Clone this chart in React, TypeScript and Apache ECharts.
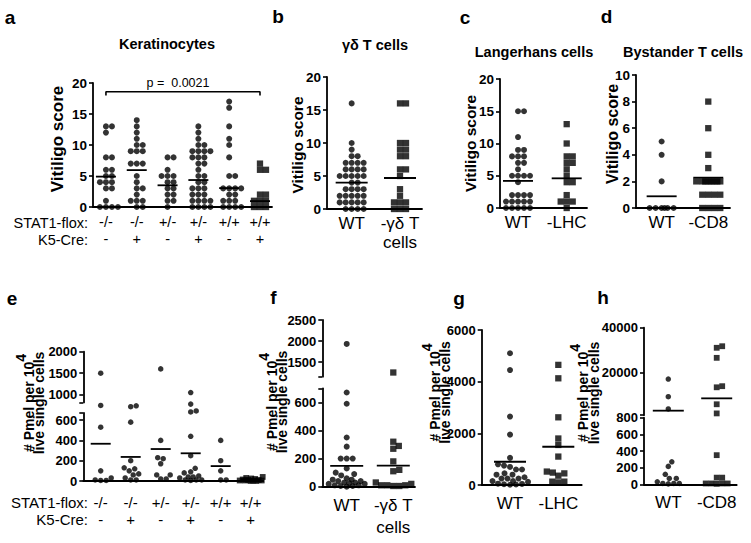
import React, { useEffect, useRef } from "react";
import * as echarts from "echarts";

const FONT = '"Liberation Sans", Arial, Helvetica, sans-serif';
const INK = "#000000";

// ---------------- data ----------------
// a / e genotype rows
const stat1Flox = ["-/-", "-/-", "+/-", "+/-", "+/+", "+/+"];
const k5Cre = ["-", "+", "-", "+", "-", "+"];

// a: Keratinocytes, vitiligo score
const scoreKeratinocytes = [
  [13, 13, 12, 8, 8, 6, 6, 5, 5, 4, 4, 4, 3, 3, 1, 0, 0, 0, 0],
  [14, 13, 12, 11, 10, 10, 9, 9, 9, 7, 7, 7, 5, 4, 3, 3, 2, 1, 1, 1, 0, 0],
  [8, 8, 6, 5, 5, 5, 4, 4, 3, 3, 2, 2, 1, 1, 0],
  [13, 12, 11, 10, 10, 9, 9, 9, 9, 8, 8, 8, 7, 7, 6, 5, 5, 4, 4, 3, 3, 3, 2, 2, 2, 1, 1, 1, 1, 0, 0, 0, 0],
  [17, 16, 13, 11, 10, 8, 5, 5, 3, 3, 3, 3, 2, 2, 1, 1, 1, 0, 0, 0, 0],
  [7, 6, 6, 2, 2, 1, 1, 1, 0, 0, 0],
];
const meanKeratinocytes = [4.9, 5.95, 3.5, 4.35, 3.05, 0.95];
const pValueText = "p =  0.0021";

// b: γδ T cells
const catGammaDelta = ["WT", "-γδ T\ncells"];
const scoreGammaDelta = [
  [16, 10, 9, 8, 8, 7, 7, 7, 7, 6, 6, 6, 6, 5, 5, 5, 5, 5, 4, 4, 3, 3, 3, 3, 2, 2, 2, 2, 2, 1, 1, 1, 1, 1, 0, 0, 0, 0],
  [16, 16, 10, 10, 9, 9, 8, 8, 6, 6, 5, 3, 2, 1, 1, 1, 0, 0, 0],
];
const meanGammaDelta = [4.0, 4.7];

// c: Langerhans cells
const catLangerhans = ["WT", "-LHC"];
const scoreLangerhans = [
  [15, 15, 11, 9, 9, 8, 8, 8, 7, 7, 6, 5, 5, 5, 5, 4, 2, 2, 2, 2, 1, 1, 1, 1, 1, 0, 0, 0, 0, 0],
  [13, 10, 8, 8, 7, 7, 6, 5, 4, 4, 2, 1, 1, 1, 0],
];
const meanLangerhans = [4.2, 4.6];

// d: Bystander T cells
const catBystander = ["WT", "-CD8"];
const scoreBystander = [
  [5, 4, 2, 0, 0, 0, 0, 0, 0],
  [8, 6, 4, 3, 2, 2, 2, 2, 2, 2, 2, 2, 1, 1, 1, 1, 0, 0, 0, 0],
];
const meanBystander = [0.88, 2.28];

// e: Pmel per 10^4 live single cells, keratinocyte STAT1
const pmelKeratinocytes = [
  [1500, 750, 530, 100, 30, 10, 5, 5],
  [740, 720, 580, 200, 130, 120, 100, 70, 60, 30, 10, 10],
  [1600, 400, 230, 220, 170, 60, 60, 20, 20],
  [1050, 780, 690, 680, 440, 250, 125, 90, 80, 50, 40, 40, 30, 10, 10, 10, 5],
  [400, 200, 100, 10, 10],
  [40, 30, 25, 20, 15, 10, 10, 5, 5, 5, 5, 0, 0],
];
const meanPmelKeratinocytes = [367, 237, 315, 273, 147, 15];

// f
const pmelGammaDelta = [
  [1930, 670, 590, 350, 285, 200, 200, 200, 130, 100, 90, 80, 60, 50, 50, 40, 40, 30, 30, 25, 20, 20, 10, 10, 5, 5, 0],
  [1250, 320, 290, 270, 180, 120, 110, 30, 20, 10, 10, 10, 5, 5],
];
const meanPmelGammaDelta = [148, 150];

// g
const pmelLangerhans = [
  [5100, 4450, 2650, 1950, 1050, 800, 750, 700, 600, 600, 450, 400, 400, 300, 250, 250, 250, 150, 150, 120, 50, 40, 30, 20, 10],
  [4650, 4130, 2620, 1800, 1550, 1100, 520, 480, 450, 360, 130, 130, 100],
];
const meanPmelLangerhans = [900, 1480];

// h
const pmelBystander = [
  [17000, 9100, 3600, 270, 215, 120, 70, 70, 30, 10, 10, 10, 5],
  [31700, 31000, 26500, 13800, 13300, 5700, 1600, 350, 80, 80, 10, 10, 10, 10, 5],
];
const meanPmelBystander = [2830, 8350];

// tick labels
const ticksScore = [0, 5, 10, 15, 20];
const ticksScoreD = [0, 2, 4, 6, 8, 10];
const ticksEUpper = [1000, 1500, 2000];
const ticksELower = [0, 200, 400, 600];
const ticksFUpper = [1500, 2000, 2500];
const ticksFLower = [0, 200, 400, 600];
const ticksG = [0, 2000, 4000, 6000];
const ticksHUpper = [20000, 40000];
const ticksHLower = [0, 200, 400, 600, 800];

// ---------------- layout ----------------
type Seg = { top: number; height: number; min: number; max: number; labels: number[] };
type Panel = {
  left: number; width: number; xMin: number; xMax: number;
  segs: Seg[]; split: number;
  groups: number[][]; means: number[]; cats: string[]; symbols: string[];
  size: number; spread: number; meanHalf: number;
  labelMargin: number; labelLH: number; labelSize: number; tickSize: number;
};

const genoCats = stat1Flox.map((s, i) => s + "\n" + k5Cre[i]);
const sym6 = ["circle", "circle", "circle", "circle", "circle", "rect"];
const sym2 = ["circle", "rect"];

const panels: Panel[] = [
  {
    left: 93, width: 179, xMin: -0.42, xMax: 5.39, split: 0,
    segs: [{ top: 83, height: 124, min: 0, max: 20, labels: ticksScore }],
    groups: scoreKeratinocytes, means: meanKeratinocytes, cats: genoCats, symbols: sym6,
    size: 6, spread: 14, meanHalf: 10, labelMargin: 6.5, labelLH: 17, labelSize: 14.5, tickSize: 13.5,
  },
  {
    left: 327, width: 95, xMin: -0.51, xMax: 1.455, split: 0,
    segs: [{ top: 77, height: 132, min: 0, max: 20, labels: ticksScore }],
    groups: scoreGammaDelta, means: meanGammaDelta, cats: catGammaDelta, symbols: sym2,
    size: 6, spread: 17, meanHalf: 16, labelMargin: 4.5, labelLH: 19, labelSize: 17, tickSize: 13.5,
  },
  {
    left: 500, width: 87, xMin: -0.37, xMax: 1.417, split: 0,
    segs: [{ top: 79, height: 129, min: 0, max: 20, labels: ticksScore }],
    groups: scoreLangerhans, means: meanLangerhans, cats: catLangerhans, symbols: sym2,
    size: 6, spread: 16, meanHalf: 15, labelMargin: 4.5, labelLH: 19, labelSize: 17, tickSize: 13.5,
  },
  {
    left: 636, width: 94, xMin: -0.55, xMax: 1.466, split: 0,
    segs: [{ top: 75, height: 133, min: 0, max: 10, labels: ticksScoreD }],
    groups: scoreBystander, means: meanBystander, cats: catBystander, symbols: sym2,
    size: 6, spread: 13, meanHalf: 15, labelMargin: 4.5, labelLH: 19, labelSize: 17, tickSize: 13.5,
  },
  {
    left: 83.3, width: 180, xMin: -0.58, xMax: 5.42, split: 700,
    segs: [
      { top: 351.7, height: 50.7, min: 820, max: 2000, labels: ticksEUpper },
      { top: 413, height: 68, min: 0, max: 670, labels: ticksELower },
    ],
    groups: pmelKeratinocytes, means: meanPmelKeratinocytes, cats: genoCats, symbols: sym6,
    size: 5.5, spread: 12, meanHalf: 10, labelMargin: 13, labelLH: 17, labelSize: 15, tickSize: 13,
  },
  {
    left: 322.3, width: 92.7, xMin: -0.524, xMax: 1.466, split: 900,
    segs: [
      { top: 320, height: 56.7, min: 1150, max: 2500, labels: ticksFUpper },
      { top: 388.3, height: 98.4, min: 0, max: 700, labels: ticksFLower },
    ],
    groups: pmelGammaDelta, means: meanPmelGammaDelta, cats: catGammaDelta, symbols: sym2,
    size: 6, spread: 18, meanHalf: 16.5, labelMargin: 7.8, labelLH: 22, labelSize: 17, tickSize: 13,
  },
  {
    left: 481.7, width: 100, xMin: -0.586, xMax: 1.484, split: 0,
    segs: [{ top: 330, height: 155, min: 0, max: 6000, labels: ticksG }],
    groups: pmelLangerhans, means: meanPmelLangerhans, cats: catLangerhans, symbols: sym2,
    size: 6, spread: 18, meanHalf: 16, labelMargin: 9, labelLH: 19, labelSize: 17, tickSize: 13,
  },
  {
    left: 644, width: 92.7, xMin: -0.502, xMax: 1.413, split: 800,
    segs: [
      { top: 327.7, height: 87.5, min: 800, max: 40000, labels: ticksHUpper },
      { top: 417.7, height: 66.6, min: 0, max: 800, labels: ticksHLower },
    ],
    groups: pmelBystander, means: meanPmelBystander, cats: catBystander, symbols: sym2,
    size: 5.5, spread: 16, meanHalf: 15.5, labelMargin: 8.7, labelLH: 19, labelSize: 17, tickSize: 13,
  },
];

// bracket in panel a (data units)
const bracket = { from: 0, to: 5, top: 18.6, foot: 18.0 };

function segOf(p: Panel, v: number) {
  if (p.segs.length === 1) return 0;
  return v > p.split ? 0 : 1;
}
function yPx(s: Seg, v: number) {
  return s.top + (s.height * (s.max - v)) / (s.max - s.min);
}

// beeswarm: returns horizontal pixel offsets
function swarm(ys: number[], d: number, maxHalf: number): number[] {
  const order = ys.map((_, i) => i).sort((a, b) => ys[b] - ys[a]);
  const cands: number[] = [0];
  for (let k = 0.5; k <= maxHalf + 1e-9; k += 0.5) cands.push(k, -k);
  const placed: { x: number; y: number }[] = [];
  const out = new Array(ys.length).fill(0);
  for (const i of order) {
    const y = ys[i];
    let best = 0;
    let bestScore = -Infinity;
    for (const c of cands) {
      let minD = Infinity;
      for (const q of placed) {
        const dd = Math.hypot(q.x - c, q.y - y);
        if (dd < minD) minD = dd;
      }
      if (minD >= d) { best = c; break; }
      if (minD > bestScore + 0.01) { bestScore = minD; best = c; }
    }
    placed.push({ x: best, y });
    out[i] = best;
  }
  return out;
}

function buildOption() {
  const grid: any[] = [];
  const xAxis: any[] = [];
  const yAxis: any[] = [];
  const series: any[] = [];
  const axisLineStyle = { color: INK, width: 1.8 };

  panels.forEach((p) => {
    const pxPerX = p.width / (p.xMax - p.xMin);
    const base = grid.length;
    p.segs.forEach((s, si) => {
      const isBottom = si === p.segs.length - 1;
      grid.push({ left: p.left, top: s.top, width: p.width, height: s.height });
      xAxis.push({
        type: "value", gridIndex: base + si, min: p.xMin, max: p.xMax, show: isBottom,
        axisLine: { show: isBottom, onZero: false, lineStyle: axisLineStyle },
        axisTick: { show: false },
        splitLine: { show: false },
        axisLabel: {
          show: isBottom,
          customValues: p.cats.map((_, i) => i),
          formatter: (v: number) => p.cats[Math.round(v)] ?? "",
          fontFamily: FONT, fontSize: p.labelSize, lineHeight: p.labelLH,
          color: INK, margin: p.labelMargin, hideOverlap: false,
        },
      });
      const tickVals = [...s.labels];
      if (!tickVals.includes(s.min)) tickVals.push(s.min);
      if (!tickVals.includes(s.max)) tickVals.push(s.max);
      yAxis.push({
        type: "value", gridIndex: base + si, min: s.min, max: s.max,
        axisLine: { show: true, onZero: false, lineStyle: axisLineStyle },
        axisTick: { show: true, length: 4, customValues: tickVals, lineStyle: { color: INK, width: 1.6 } },
        splitLine: { show: false },
        axisLabel: {
          customValues: s.labels, formatter: (v: number) => String(v),
          fontFamily: FONT, fontSize: p.tickSize, fontWeight: "bold", color: INK, margin: 6,
        },
      });
    });

    p.groups.forEach((vals, gi) => {
      const ys = vals.map((v) => yPx(p.segs[segOf(p, v)], v));
      const offs = swarm(ys, p.size, p.spread);
      p.segs.forEach((_, si) => {
        const data = vals
          .map((v, k) => ({ v, k }))
          .filter((o) => segOf(p, o.v) === si)
          .map((o) => [gi + offs[o.k] / pxPerX, o.v]);
        if (data.length) {
          series.push({
            type: "scatter", xAxisIndex: base + si, yAxisIndex: base + si, data,
            symbol: p.symbols[gi], symbolSize: p.symbols[gi] === "rect" ? p.size + 0.3 : p.size,
            itemStyle: { color: INK }, clip: false, silent: true, z: 2,
          });
        }
      });
      const m = p.means[gi];
      const ms = segOf(p, m);
      const hw = p.meanHalf / pxPerX;
      series.push({
        type: "line", xAxisIndex: base + ms, yAxisIndex: base + ms,
        data: [[gi - hw, m], [gi + hw, m]], symbol: "none", clip: false,
        lineStyle: { color: INK, width: 1.8 }, silent: true, z: 3,
      });
    });
  });

  // significance bracket, panel a
  series.push({
    type: "line", xAxisIndex: 0, yAxisIndex: 0, symbol: "none", silent: true, clip: false,
    data: [[bracket.from, bracket.foot], [bracket.from, bracket.top], [bracket.to, bracket.top], [bracket.to, bracket.foot]],
    lineStyle: { color: INK, width: 1.6 }, z: 3,
  });

  const txt = (x: number, y: number, text: string, size: number, weight: string, align = "center") => ({
    type: "text", x, y, silent: true,
    style: { text, fontFamily: FONT, fontSize: size, fontWeight: weight, fill: INK, align, verticalAlign: "middle" },
  });
  const vtitle = (x: number, y: number, text: string, size: number) => ({
    type: "text", x, y, rotation: Math.PI / 2, silent: true,
    style: { text, fontFamily: FONT, fontSize: size, fontWeight: "bold", fill: INK, align: "center", verticalAlign: "middle" },
  });
  // two-line rotated "# Pmel per 10^4 / live single cells"
  const pmelTitle = (body1: number, line2: number, y: number) => [
    {
      type: "text", x: body1 - 4, y, rotation: Math.PI / 2, silent: true,
      style: {
        text: "{a|# Pmel per 10}{s|4}",
        align: "center", verticalAlign: "middle", fill: INK,
        rich: {
          a: { fontFamily: FONT, fontSize: 14, fontWeight: "bold", fill: INK, padding: [8, 0, 0, 0] },
          s: { fontFamily: FONT, fontSize: 14, fontWeight: "bold", fill: INK, padding: [0, 0, 8, 0] },
        },
      },
    },
    vtitle(line2, y, "live single cells", 14),
  ];

  const graphic: any[] = [
    // panel letters
    txt(10, 17, "a", 19, "bold"),
    txt(278, 16.5, "b", 19, "bold"),
    txt(465, 17.5, "c", 19, "bold"),
    txt(606.5, 16, "d", 19, "bold"),
    txt(12, 298, "e", 19, "bold"),
    txt(273.5, 297, "f", 19, "bold"),
    txt(459, 298, "g", 19, "bold"),
    txt(603, 297.5, "h", 19, "bold"),
    // panel titles
    txt(167, 44, "Keratinocytes", 14.5, "bold"),
    txt(375, 45, "γδ T cells", 14.5, "bold"),
    txt(534, 52, "Langerhans cells", 14.5, "bold"),
    txt(683, 52, "Bystander T cells", 14.5, "bold"),
    // p value
    txt(178, 83, pValueText, 12.5, "normal"),
    // row headers
    txt(88, 222.5, "STAT1-flox:", 14.5, "normal", "right"),
    txt(88, 239.5, "K5-Cre:", 14.5, "normal", "right"),
    txt(88, 502.5, "STAT1-flox:", 15, "normal", "right"),
    txt(88, 519.5, "K5-Cre:", 15, "normal", "right"),
    // y titles
    vtitle(57.5, 139, "Vitiligo score", 17),
    vtitle(297.5, 145, "Vitiligo score", 15.5),
    vtitle(470.5, 143.5, "Vitiligo score", 15.5),
    vtitle(612, 134, "Vitiligo score", 16),
    ...pmelTitle(29, 38.5, 403),
    ...pmelTitle(272, 282, 402),
    ...pmelTitle(435, 444.5, 392.5),
    ...pmelTitle(583, 594, 393),
  ];

  return {
    animation: false,
    backgroundColor: "#ffffff",
    grid, xAxis, yAxis, series, graphic,
  };
}

export default function App() {
  const ref = useRef<HTMLDivElement>(null);
  useEffect(() => {
    document.body.style.margin = "0";
    const chart = echarts.init(ref.current as HTMLDivElement, null, { renderer: "svg" });
    chart.setOption(buildOption() as any);
    return () => chart.dispose();
  }, []);
  return <div ref={ref} style={{ width: 751, height: 543, background: "#ffffff" }} />;
}
